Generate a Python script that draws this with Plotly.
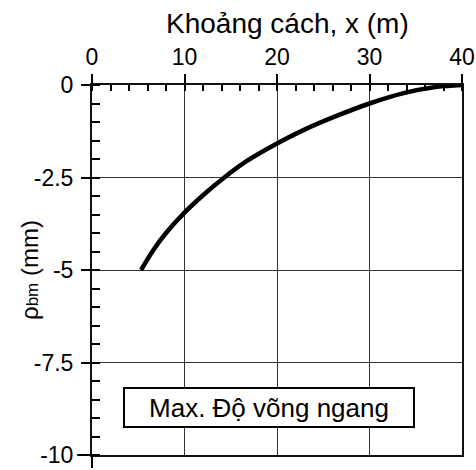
import plotly.graph_objects as go

x_vals = [5.3, 6.6, 8.0, 10.0, 12.0, 14.2, 16.7, 20.0, 23.2, 26.5, 30.0, 33.7, 37.3, 40.0]
y_vals = [-5.0, -4.47, -4.0, -3.45, -2.98, -2.52, -2.06, -1.58, -1.18, -0.83, -0.50, -0.22, -0.05, 0.0]

x_ticks = [0, 10, 20, 30, 40]
y_ticks = [0, -2.5, -5, -7.5, -10]
y_tick_labels = ["0", "-2.5", "-5", "-7.5", "-10"]

x_title = "Khoảng cách, x (m)"
y_title = "ρ<span style='font-size:17px'>bm</span> (mm)"
label_text = "Max. Độ võng ngang"

FONT = "Liberation Sans, Arial, sans-serif"

fig = go.Figure()
fig.add_trace(go.Scatter(
    x=x_vals, y=y_vals, mode="lines",
    line=dict(color="black", width=4.5, shape="spline", smoothing=0.8),
    showlegend=False, hoverinfo="skip",
))

fig.update_layout(
    width=476, height=470,
    margin=dict(l=92, r=14, t=85, b=15),
    paper_bgcolor="white", plot_bgcolor="white",
    font=dict(family=FONT, color="black", size=23),
    xaxis=dict(
        side="top", range=[0, 40], tickvals=x_ticks,
        ticks="outside", ticklen=9, tickwidth=2, tickcolor="black",
        showline=True, linewidth=2, linecolor="#111", mirror=True,
        showgrid=True, gridcolor="#333", gridwidth=1,
        zeroline=False, automargin=False,
        tickfont=dict(size=23),
        minor=dict(dtick=2, ticks="inside", ticklen=6, tickwidth=2, tickcolor="black", showgrid=False),
    ),
    yaxis=dict(
        range=[-10, 0], tickvals=y_ticks, ticktext=y_tick_labels,
        ticks="outside", ticklen=9, tickwidth=2, tickcolor="black",
        showline=True, linewidth=2, linecolor="#111", mirror=True,
        showgrid=True, gridcolor="#333", gridwidth=1,
        zeroline=False, automargin=False,
        tickfont=dict(size=23), ticklabelstandoff=3,
        minor=dict(dtick=0.5, ticks="inside", ticklen=8, tickwidth=2, tickcolor="black", showgrid=False),
    ),
    annotations=[
        dict(
            x=287, y=470 - 24, xref="paper", yref="paper",
            text=x_title, showarrow=False, font=dict(size=28, color="black"),
            xanchor="center", yanchor="middle",
        ),
        dict(
            x=3.3, y=-8.72, xref="x", yref="y", xanchor="left", yanchor="middle",
            text=label_text, showarrow=False, font=dict(size=26, color="black"),
            bgcolor="white", bordercolor="black", borderwidth=2, borderpad=3,
            width=282, height=31, align="center",
        ),
    ],
    shapes=[
        dict(type="line", xref="paper", yref="paper", x0=0, x1=0, y0=0, y1=-0.035,
             line=dict(color="black", width=2)),
        dict(type="line", xref="paper", yref="paper", x0=0, x1=-0.04, y0=0, y1=0,
             line=dict(color="black", width=2)),
    ],
)

# convert the title annotation's pixel placement into paper coordinates
pw = 476 - 92 - 14
ph = 470 - 85 - 15
fig.layout.annotations[0].x = (287 - 92) / pw
fig.layout.annotations[0].y = ((470 - 15) - 24) / ph
fig.add_annotation(
    x=(29 - 92) / pw, y=((470 - 15) - 270) / ph, xref="paper", yref="paper",
    text=y_title, showarrow=False, textangle=-90, font=dict(size=24, color="black"),
    xanchor="center", yanchor="middle",
)

fig.write_html("out.html")
